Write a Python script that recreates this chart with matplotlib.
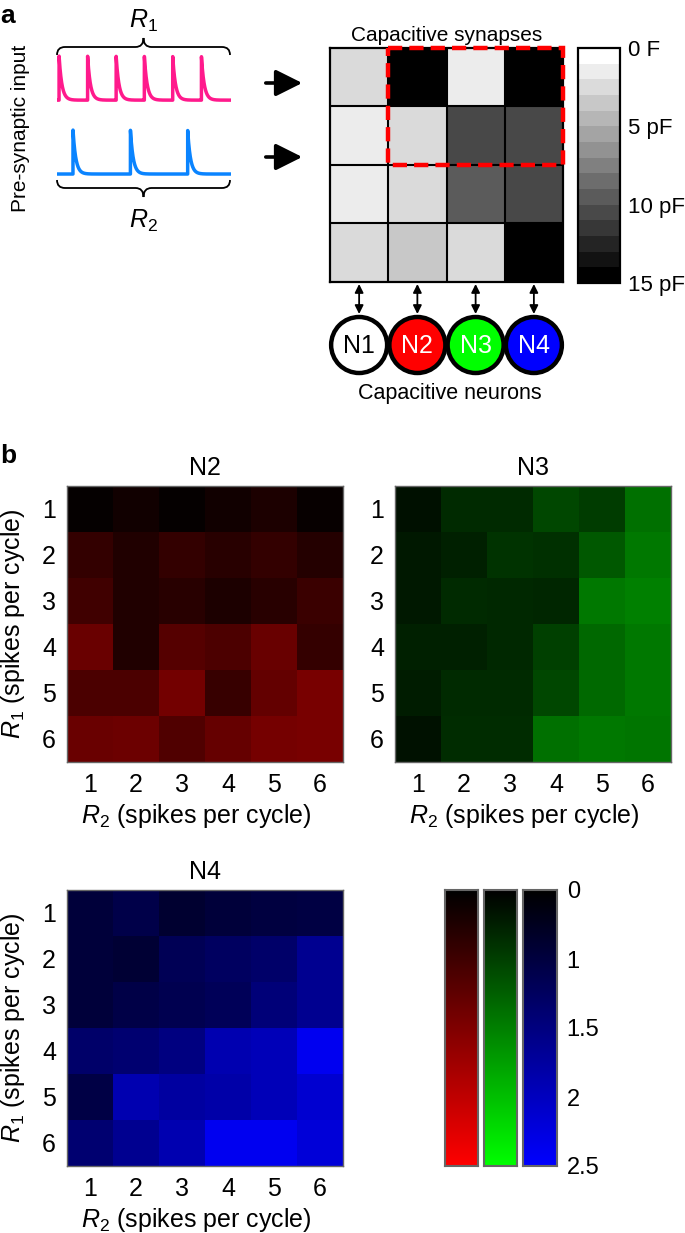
import numpy as np
import matplotlib
matplotlib.use("Agg")
import matplotlib.pyplot as plt
from matplotlib.colors import ListedColormap, LinearSegmentedColormap, FuncNorm
from matplotlib.patches import Circle, Rectangle, PathPatch
from matplotlib.path import Path

plt.rcParams["font.family"] = ["Liberation Sans", "DejaVu Sans"]
plt.rcParams["mathtext.fontset"] = "custom"
plt.rcParams["mathtext.rm"] = "Liberation Sans"
plt.rcParams["mathtext.it"] = "Liberation Sans:italic"

# ---- panel a data ----
r1_spikes = [0.012, 0.176, 0.340, 0.502, 0.665, 0.830]   # spike times (fraction of cycle)
r2_spikes = [0.092, 0.422, 0.751]
neurons = ["N1", "N2", "N3", "N4"]
neuron_colors = ["white", "#ff0000", "#00ff00", "#0000ff"]
neuron_text = ["black", "white", "white", "white"]
synapse_pf = np.array([
    [2.5, 15.0, 1.2, 15.0],
    [1.2, 2.3, 10.4, 10.4],
    [1.2, 2.3, 9.5, 10.4],
    [2.3, 3.3, 2.3, 15.0],
])
cap_ticks = [0, 5, 10, 15]
cap_labels = ["0 F", "5 pF", "10 pF", "15 pF"]

# ---- panel b data ----
spike_counts = [1, 2, 3, 4, 5, 6]
n2 = np.array([
    [0.08, 0.28, 0.08, 0.28, 0.44, 0.11],
    [0.80, 0.53, 0.80, 0.63, 0.80, 0.58],
    [1.00, 0.50, 0.63, 0.44, 0.63, 0.91],
    [1.33, 0.50, 1.17, 1.10, 1.32, 0.83],
    [1.09, 1.09, 1.40, 0.86, 1.28, 1.44],
    [1.33, 1.35, 1.13, 1.29, 1.42, 1.44],
])
n3 = np.array([
    [0.25, 0.66, 0.66, 1.06, 0.94, 1.38],
    [0.38, 0.50, 0.80, 0.75, 1.19, 1.44],
    [0.38, 0.66, 0.63, 0.60, 1.44, 1.50],
    [0.50, 0.50, 0.63, 1.00, 1.32, 1.44],
    [0.44, 0.66, 0.66, 1.06, 1.33, 1.44],
    [0.28, 0.69, 0.69, 1.38, 1.44, 1.42],
])
n4 = np.array([
    [0.91, 1.08, 0.75, 0.91, 1.00, 1.03],
    [0.91, 0.83, 1.17, 1.25, 1.33, 1.63],
    [0.91, 1.06, 1.13, 1.19, 1.44, 1.63],
    [1.33, 1.38, 1.50, 1.88, 1.94, 2.38],
    [1.04, 1.88, 1.75, 1.82, 1.94, 2.13],
    [1.38, 1.63, 1.88, 2.38, 2.38, 2.19],
])
cbar_ticks = [0, 1, 1.5, 2, 2.5]

W, H = 685, 1233
fig = plt.figure(figsize=(W / 100, H / 100), dpi=100)


def add_px(x0, y0, x1, y1, **kw):
    return fig.add_axes([x0 / W, 1 - y1 / H, (x1 - x0) / W, (y1 - y0) / H], **kw)


# overlay in pixel coordinates for the schematic bits
ov = fig.add_axes([0, 0, 1, 1], zorder=5)
ov.set_xlim(0, W)
ov.set_ylim(H, 0)
ov.axis("off")
ov.patch.set_alpha(0)


def brace(ax, x0, x1, y_end, y_flat, y_tip, r=8):
    xm = (x0 + x1) / 2
    verts = [(x0, y_end), (x0, y_flat), (x0 + r, y_flat), (xm - r, y_flat),
             (xm, y_flat), (xm, y_tip), (xm, y_flat), (xm + r, y_flat),
             (x1 - r, y_flat), (x1, y_flat), (x1, y_end)]
    codes = [Path.MOVETO, Path.CURVE3, Path.CURVE3, Path.LINETO,
             Path.CURVE3, Path.CURVE3, Path.CURVE3, Path.CURVE3,
             Path.LINETO, Path.CURVE3, Path.CURVE3]
    ax.add_patch(PathPatch(Path(verts, codes), fc="none", ec="black", lw=1.3))


ov.text(0, 16, "a", fontsize=19, fontweight="bold", va="center", ha="left")
ov.text(0, 456, "b", fontsize=19, fontweight="bold", va="center", ha="left")
ov.text(21, 128, "Pre-synaptic input", rotation=90, fontsize=15, ha="center", va="center")

brace(ov, 57, 230, 55, 47, 38)
brace(ov, 57, 230, 180, 188, 197)
ov.text(143, 21, r"$R_1$", fontsize=18, ha="center", va="center")
ov.text(143, 221, r"$R_2$", fontsize=18, ha="center", va="center")

# spike traces
tr = add_px(57, 50, 231, 180)
t = np.linspace(0, 1, 4000)


def trace(times, tau=0.016):
    v = np.zeros_like(t)
    for ts in times:
        m = t >= ts
        v[m] += np.exp(-(t[m] - ts) / tau)
    return v


tr.plot(t, trace(r1_spikes) + 1.68, color="#ff1a8c", lw=2.5)
tr.plot(t, trace(r2_spikes), color="#0a84ff", lw=2.5)
tr.set_xlim(0, 1)
tr.set_ylim(-0.136, 2.82)
tr.axis("off")

for y in [83, 157]:
    ov.annotate("", xy=(305, y), xytext=(263, y),
                arrowprops=dict(arrowstyle="-|>,head_length=0.9,head_width=0.45",
                                lw=2.6, color="black", mutation_scale=18))

# synapse grid
gx0, gy0, gx1, gy1 = 330, 48, 563, 282
gax = add_px(gx0, gy0, gx1, gy1)
grays = ListedColormap([str(g) for g in np.linspace(1, 0, 15)])
gax.imshow(synapse_pf, cmap=grays, vmin=0, vmax=15, aspect="auto")
for k in np.arange(0.5, 3.5, 1):
    gax.axhline(k, color="black", lw=1.5)
    gax.axvline(k, color="black", lw=1.5)
gax.set_xticks([])
gax.set_yticks([])
for s in gax.spines.values():
    s.set_linewidth(1.6)
gax.add_patch(Rectangle((0.5, -0.5), 3.0, 2.0, fill=False, ec="#ff0000", lw=3.2,
                        ls=(0, (3.2, 1.6)), clip_on=False, zorder=5))
gax.set_title("Capacitive synapses", fontsize=15, pad=5)

# grayscale colorbar
cax = add_px(578, 48, 620, 283)
sm = plt.cm.ScalarMappable(cmap=grays, norm=plt.Normalize(0, 15))
cb = fig.colorbar(sm, cax=cax)
cax.invert_yaxis()
cb.set_ticks(cap_ticks)
cb.set_ticklabels(cap_labels)
cax.tick_params(length=0, labelsize=16, pad=6)
cb.outline.set_linewidth(1.6)

# neurons
cw = (gx1 - gx0) / 4
for i, (name, fc, tc) in enumerate(zip(neurons, neuron_colors, neuron_text)):
    cx = gx0 + (i + 0.5) * cw
    ov.annotate("", xy=(cx, 284), xytext=(cx, 314),
                arrowprops=dict(arrowstyle="<|-|>,head_length=0.5,head_width=0.25",
                                lw=1.3, color="black", mutation_scale=10,
                                shrinkA=0, shrinkB=0))
    ov.add_patch(Circle((cx, 345), 28, fc=fc, ec="black", lw=3.2))
    ov.text(cx, 346, name, fontsize=18, color=tc, ha="center", va="center")
ov.text(450, 393, "Capacitive neurons", fontsize=15.5, ha="center", va="center")

# ---- panel b ----
def fwd(x):
    return np.interp(x, cbar_ticks, [0, 0.25, 0.5, 0.75, 1.0])


def inv(y):
    return np.interp(y, [0, 0.25, 0.5, 0.75, 1.0], cbar_ticks)


norm = FuncNorm((fwd, inv), vmin=0, vmax=2.5)
cmaps = {c: LinearSegmentedColormap.from_list(c, ["black", c]) for c in ["#ff0000", "#00ff00", "#0000ff"]}


def heat(box, data, cmap, title, ylabel=True):
    ax = add_px(*box)
    ax.imshow(data, cmap=cmap, norm=norm, aspect="auto")
    ax.set_xticks(range(6))
    ax.set_xticklabels(spike_counts)
    ax.set_yticks(range(6))
    ax.set_yticklabels(spike_counts)
    ax.tick_params(length=0, labelsize=18, pad=8)
    for s in ax.spines.values():
        s.set_color("#666666")
        s.set_linewidth(1)
    ax.set_title(title, fontsize=18, pad=8)
    ax.set_xlabel(r"$R_2$ (spikes per cycle)", fontsize=18)
    ax.xaxis.set_label_coords(0.47, -0.145)
    if ylabel:
        ax.set_ylabel(r"$R_1$ (spikes per cycle)", fontsize=18)
        ax.yaxis.set_label_coords(-0.145, 0.5)
    return ax


heat((67, 486, 343, 762), n2, cmaps["#ff0000"], "N2")
heat((395, 486, 671, 762), n3, cmaps["#00ff00"], "N3", ylabel=False)
heat((67, 890, 343, 1166), n4, cmaps["#0000ff"], "N4")

grad = np.linspace(0, 1, 256)[:, None]
bars = [(445, 478, "#ff0000"), (484, 517, "#00ff00"), (523, 557, "#0000ff")]
for j, (x0, x1, c) in enumerate(bars):
    bx = add_px(x0, 890, x1, 1166)
    bx.imshow(grad, cmap=cmaps[c], vmin=0, vmax=1, aspect="auto", extent=[0, 1, 1, 0])
    bx.set_xticks([])
    for s in bx.spines.values():
        s.set_color("#666666")
        s.set_linewidth(1.5)
    if j == 2:
        bx.yaxis.tick_right()
        bx.set_yticks(fwd(cbar_ticks))
        bx.set_yticklabels([f"{v:g}" for v in cbar_ticks])
        bx.tick_params(length=0, labelsize=17, pad=7)
    else:
        bx.set_yticks([])

fig.savefig("out.png", dpi=100)
